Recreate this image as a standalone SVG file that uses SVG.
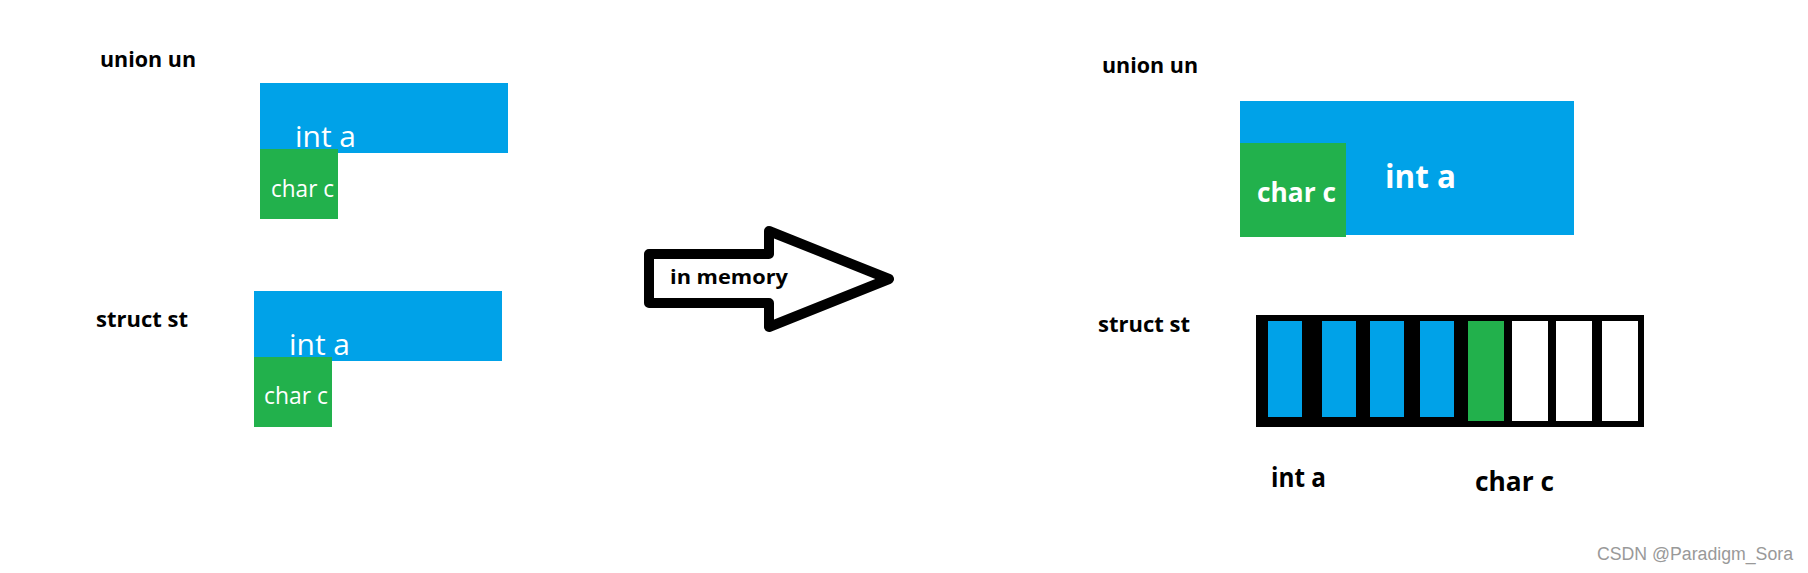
<svg xmlns="http://www.w3.org/2000/svg" width="1808" height="573" viewBox="0 0 1808 573">
<style>
.lbl{font-family:"Open Sans","Noto Sans",sans-serif;font-weight:bold;fill:#000}
.wt{font-family:"Open Sans","Noto Sans",sans-serif;fill:#fff}
.blue{fill:#00A2E8}
.green{fill:#22B14C}
.cell{fill:#fff}
</style>
<rect width="1808" height="573" fill="#fff"/>
<g id="left-union">
<text class="lbl" x="100" y="67" font-size="21" textLength="96" lengthAdjust="spacingAndGlyphs">union un</text>
<rect class="blue" x="260" y="83" width="248" height="70"/>
<text class="wt" x="295" y="147" font-size="30" textLength="61" lengthAdjust="spacingAndGlyphs">int a</text>
<rect class="green" x="260" y="149" width="78" height="70"/>
<text class="wt" x="271" y="197" font-size="24" textLength="63" lengthAdjust="spacingAndGlyphs">char c</text>
</g>
<g id="left-struct">
<text class="lbl" x="96" y="327" font-size="21" textLength="92" lengthAdjust="spacingAndGlyphs">struct st</text>
<rect class="blue" x="254" y="291" width="248" height="70"/>
<text class="wt" x="289" y="355" font-size="30" textLength="61" lengthAdjust="spacingAndGlyphs">int a</text>
<rect class="green" x="254" y="357" width="78" height="70"/>
<text class="wt" x="264" y="404" font-size="24" textLength="64" lengthAdjust="spacingAndGlyphs">char c</text>
</g>
<g id="connectors">
<polygon points="649,254 769,254 769,231 889,279 769,327 769,303 649,303" fill="#fff" stroke="#000" stroke-width="10" stroke-linejoin="round"/>
<text class="lbl" x="670" y="284" font-size="19" textLength="118" lengthAdjust="spacingAndGlyphs">in memory</text>
</g>
<g id="right-union">
<text class="lbl" x="1102" y="73" font-size="21" textLength="96" lengthAdjust="spacingAndGlyphs">union un</text>
<rect class="blue" x="1240" y="101" width="334" height="134"/>
<rect class="green" x="1240" y="143" width="106" height="94"/>
<text class="wt" x="1385" y="188" font-size="32" font-weight="bold" textLength="71" lengthAdjust="spacingAndGlyphs">int a</text>
<text class="wt" x="1257" y="202" font-size="26" font-weight="bold" textLength="79" lengthAdjust="spacingAndGlyphs">char c</text>
</g>
<g id="right-struct">
<text class="lbl" x="1098" y="332" font-size="21" textLength="92" lengthAdjust="spacingAndGlyphs">struct st</text>
<rect x="1256" y="315" width="388" height="112" fill="#000"/>
<rect class="blue" x="1268" y="321" width="34" height="96"/>
<rect class="blue" x="1322" y="321" width="34" height="96"/>
<rect class="blue" x="1370" y="321" width="34" height="96"/>
<rect class="blue" x="1420" y="321" width="34" height="96"/>
<rect class="green" x="1468" y="321" width="36" height="100"/>
<rect class="cell" x="1512" y="321" width="36" height="100"/>
<rect class="cell" x="1556" y="321" width="36" height="100"/>
<rect class="cell" x="1602" y="321" width="36" height="100"/>
<text class="lbl" x="1271" y="487" font-size="26" textLength="55" lengthAdjust="spacingAndGlyphs">int a</text>
<text class="lbl" x="1475" y="491" font-size="26" textLength="79" lengthAdjust="spacingAndGlyphs">char c</text>
</g>
<text x="1597" y="560" font-family="Liberation Sans, Arial, sans-serif" font-size="18" fill="#999" textLength="196" lengthAdjust="spacingAndGlyphs">CSDN @Paradigm_Sora</text>
</svg>
